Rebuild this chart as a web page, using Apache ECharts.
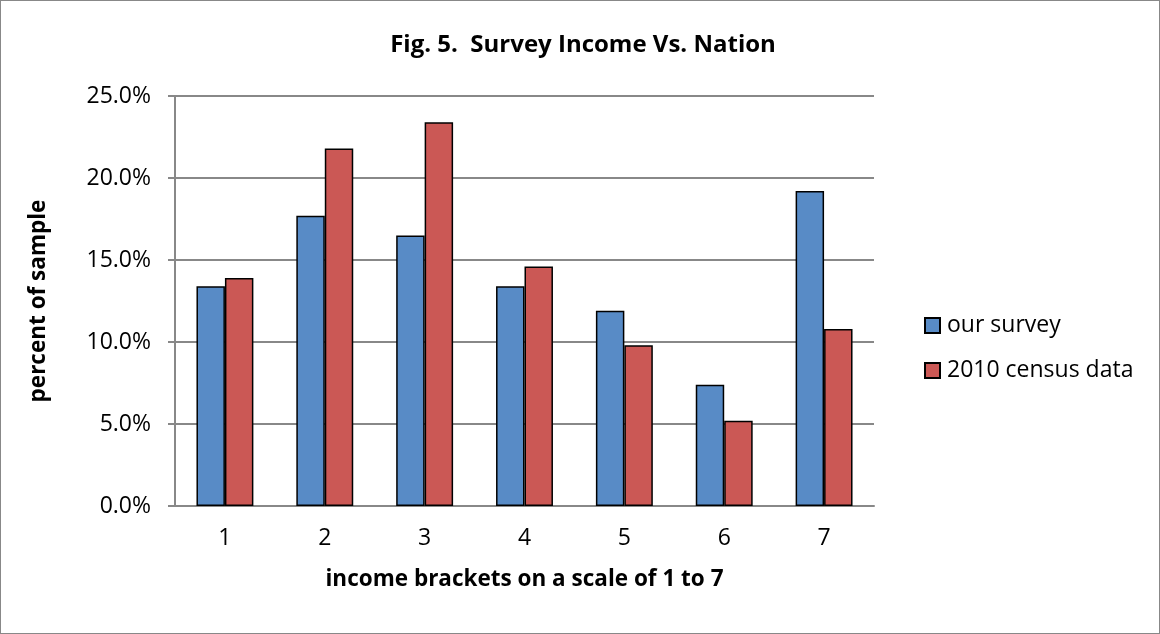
<!DOCTYPE html>
<html>
<head>
<meta charset="utf-8">
<script src="https://cdn.jsdelivr.net/npm/echarts@6/dist/echarts.min.js"></script>
<style>
html, body { margin: 0; padding: 0; background: #fff; }
#chart { width: 1158px; height: 632px; border: 1px solid #888; }
</style>
</head>
<body>
<div id="chart"></div>
<script>
// data
var brackets = ['1', '2', '3', '4', '5', '6', '7'];
var ourSurvey = [13.4, 17.7, 16.5, 13.4, 11.9, 7.4, 19.2];
var census2010 = [13.9, 21.8, 23.4, 14.6, 9.8, 5.2, 10.8];

var font = 'Open Sans';
var chart = echarts.init(document.getElementById('chart'));

chart.setOption({
    backgroundColor: '#fff',
    animation: false,
    title: {
        text: 'Fig. 5.  Survey Income Vs. Nation',
        left: 577,
        top: 27,
        textAlign: 'center',
        textStyle: { fontFamily: font, fontSize: 24, fontWeight: 'bold', color: '#000' }
    },
    legend: {
        orient: 'vertical',
        left: 918,
        top: 308,
        itemWidth: 15,
        itemHeight: 15,
        itemGap: 22,
        icon: 'rect',
        textStyle: { fontFamily: font, fontSize: 23, color: '#000', padding: [0, 0, 0, 2] },
        data: ['our survey', '2010 census data']
    },
    grid: {
        left: 174,
        top: 95,
        width: 699,
        height: 410,
        containLabel: false
    },
    xAxis: {
        type: 'category',
        data: brackets,
        name: 'income brackets on a scale of 1 to 7',
        nameLocation: 'middle',
        nameGap: 62,
        nameTextStyle: { fontFamily: font, fontSize: 22.5, fontWeight: 'bold', color: '#000' },
        axisLine: { lineStyle: { color: '#888', width: 2 } },
        axisTick: { show: false },
        axisLabel: { fontFamily: font, fontSize: 23, color: '#000', margin: 21 }
    },
    yAxis: {
        type: 'value',
        min: 0,
        max: 25,
        interval: 5,
        name: 'percent of sample',
        nameLocation: 'middle',
        nameGap: 125,
        nameTextStyle: { fontFamily: font, fontSize: 22.5, fontWeight: 'bold', color: '#000' },
        axisLine: { show: true, lineStyle: { color: '#888', width: 2 } },
        axisTick: { show: true, length: 7, lineStyle: { color: '#888', width: 2 } },
        axisLabel: {
            fontFamily: font, fontSize: 23, color: '#000', margin: 24,
            formatter: function (v) { return v.toFixed(1) + '%'; }
        },
        splitLine: { lineStyle: { color: '#888', width: 2 } }
    },
    series: [
        {
            name: 'our survey',
            type: 'bar',
            data: ourSurvey,
            barGap: '0%',
            barCategoryGap: '43%',
            itemStyle: { color: '#588BC6', borderColor: '#000', borderWidth: 1.5 }
        },
        {
            name: '2010 census data',
            type: 'bar',
            data: census2010,
            itemStyle: { color: '#CB5855', borderColor: '#000', borderWidth: 1.5 }
        }
    ]
});
</script>
</body>
</html>
